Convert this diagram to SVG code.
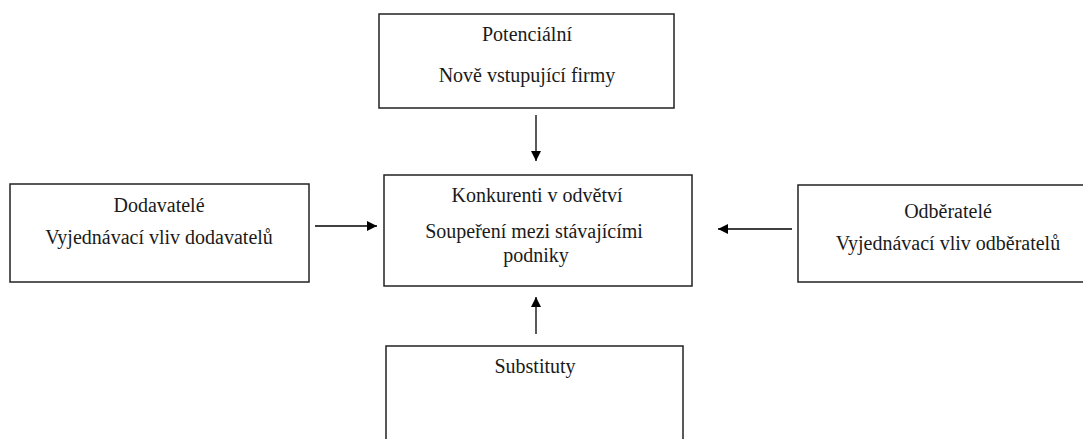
<svg xmlns="http://www.w3.org/2000/svg" width="1083" height="439" viewBox="0 0 1083 439">
<defs>
<marker id="ah" viewBox="0 0 10 10" refX="10" refY="5" markerWidth="10" markerHeight="10" markerUnits="userSpaceOnUse" orient="auto">
<path d="M0,0 L10,5 L0,10 z" fill="#000"/>
</marker>
</defs>
<style>
.box{fill:#fff;stroke:#222;stroke-width:1.5}
.t{font-family:"Liberation Serif","Times New Roman",serif;font-size:20px;fill:#1a1a1a;text-anchor:middle}
.c{stroke:#000;stroke-width:1.3;fill:none;marker-end:url(#ah)}
</style>
<rect width="1083" height="439" fill="#fff"/>
<g id="potencialni">
<rect class="box" x="379" y="14" width="295" height="94"/>
<text class="t" x="527" y="41">Potenciální</text>
<text class="t" x="527" y="82">Nově vstupující firmy</text>
</g>
<g id="dodavatele">
<rect class="box" x="10" y="184" width="299" height="98"/>
<text class="t" x="159" y="212">Dodavatelé</text>
<text class="t" x="159" y="244">Vyjednávací vliv dodavatelů</text>
</g>
<g id="konkurenti">
<rect class="box" x="384" y="175" width="308" height="111"/>
<text class="t" x="537" y="202">Konkurenti v odvětví</text>
<text class="t" x="534" y="238">Soupeření mezi stávajícími</text>
<text class="t" x="536" y="262">podniky</text>
</g>
<g id="odberatele">
<rect class="box" x="798" y="185" width="300" height="97"/>
<text class="t" x="948" y="218">Odběratelé</text>
<text class="t" x="948" y="250">Vyjednávací vliv odběratelů</text>
</g>
<g id="substituty">
<rect class="box" x="386" y="346" width="297" height="110"/>
<text class="t" x="535" y="373">Substituty</text>
</g>
<g id="connectors">
<line class="c" x1="536" y1="115" x2="536" y2="161"/>
<line class="c" x1="315" y1="226" x2="377" y2="226"/>
<line class="c" x1="792" y1="229" x2="718" y2="229"/>
<line class="c" x1="536" y1="334" x2="536" y2="297"/>
</g>
</svg>
